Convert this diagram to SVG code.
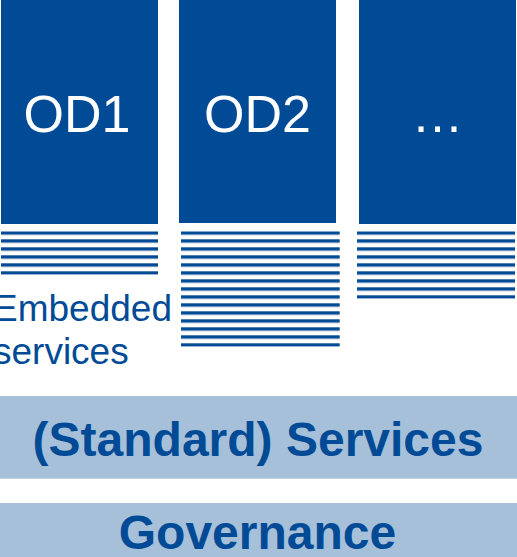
<svg xmlns="http://www.w3.org/2000/svg" width="517" height="557" viewBox="0 0 517 557">
<defs>
<style>
.box{fill:#014B96}
.band{fill:#A7C0DA}
.ln{fill:#014B96}
.od{font-family:"Liberation Sans",Arial,sans-serif;font-size:52px;fill:#ffffff;text-anchor:middle}
.emb{font-family:"Liberation Sans",Arial,sans-serif;font-size:37px;fill:#014B96}
.bt{font-family:"Liberation Sans",Arial,sans-serif;font-size:48px;font-weight:bold;fill:#014B96;text-anchor:middle}
</style>
<pattern id="stripes" x="0" y="231.3" width="10" height="8" patternUnits="userSpaceOnUse">
<rect x="0" y="0" width="10" height="3.4" fill="#014B96"/>
</pattern>
</defs>
<g id="od1">
<rect class="box" x="1" y="0" width="157" height="224"/>
<text class="od" x="77" y="132">OD1</text>
<rect x="1" y="231.3" width="157" height="43.4" fill="url(#stripes)"/>
</g>
<g id="od2">
<rect class="box" x="179" y="0" width="157" height="223"/>
<text class="od" x="257.5" y="132">OD2</text>
<rect x="181" y="231.3" width="158.7" height="115.4" fill="url(#stripes)"/>
</g>
<g id="od3">
<rect class="box" x="359" y="0" width="157" height="224"/>
<text class="od" x="437.5" y="132">…</text>
<rect x="357" y="231.3" width="158" height="67.4" fill="url(#stripes)"/>
</g>
<g id="embedded">
<text class="emb" x="-7" y="321">Embedded</text>
<text class="emb" x="-7" y="363.5">services</text>
</g>
<g id="services">
<rect class="band" x="0" y="396" width="517" height="82.7"/>
<text class="bt" x="258" y="456">(Standard) Services</text>
</g>
<g id="governance">
<rect class="band" x="0" y="503" width="517" height="54"/>
<text class="bt" x="257.5" y="548.5">Governance</text>
</g>
<g id="connectors"></g>
</svg>
